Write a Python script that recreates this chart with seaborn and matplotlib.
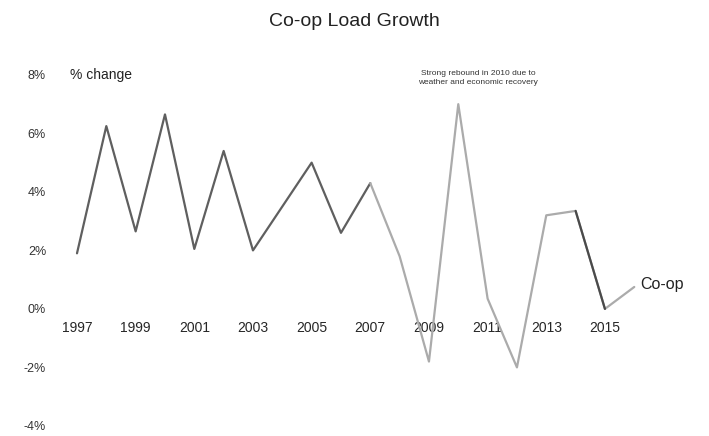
import numpy as np
import pandas as pd
import matplotlib
matplotlib.use("Agg")
import matplotlib.pyplot as plt
import seaborn as sns

years = list(range(1997, 2017))
growth = [1.9, 6.25, 2.65, 6.65, 2.05, 5.4, 2.0, 3.5, 5.0, 2.6,
          4.3, 1.8, -1.8, 7.0, 0.35, -2.0, 3.2, 3.35, 0.0, 0.75]
tick_years = [1997, 1999, 2001, 2003, 2005, 2007, 2009, 2011, 2013, 2015]
y_ticks = [8, 6, 4, 2, 0, -2, -4]

df = pd.DataFrame({"year": years, "growth": growth})
early = df[df["year"] <= 2007]
late = df[df["year"] >= 2007]

sns.set_style("white")
plt.rcParams["font.family"] = ["Liberation Sans", "DejaVu Sans"]

fig = plt.figure(figsize=(7.09, 4.36), dpi=100)
ax = fig.add_axes([0.0846, 0.0138, 0.8886, 0.8486])

sns.lineplot(data=early, x="year", y="growth", ax=ax, color="#5f5f5f", lw=1.6)
sns.lineplot(data=late, x="year", y="growth", ax=ax, color="#ababab", lw=1.6)
sns.lineplot(data=df[(df["year"] >= 2014) & (df["year"] <= 2015)], x="year", y="growth",
             ax=ax, color="#4a4a4a", lw=1.6)

ax.set_xlim(1996.42, 2017.9)
ax.set_ylim(-4.14, 8.51)
ax.set_xticks(tick_years)
ax.set_xticklabels([str(y) for y in tick_years], fontsize=8, color="#333333")
ax.set_yticks(y_ticks)
ax.set_yticklabels([f"{v}%" for v in y_ticks], fontsize=9, color="#333333")
ax.tick_params(axis="y", length=0, pad=10)
ax.tick_params(axis="x", length=0, pad=9)
ax.spines["bottom"].set_position(("data", 0))
for s in ax.spines.values():
    s.set_visible(False)
ax.set_xlabel("")
ax.set_ylabel("")

ax.text(1996.76, 8.0, "% change", fontsize=10, color="#222222", va="center")
ax.text(2016.2, 0.85, "Co-op", fontsize=11.5, color="#222222", va="center")
ax.text(2010.67, 7.9, "Strong rebound in 2010 due to\nweather and economic recovery",
        fontsize=6, color="#333333", ha="center", va="center", linespacing=1.3)

fig.text(0.5, 0.95, "Co-op Load Growth", fontsize=14, color="#222222", ha="center", va="center")

plt.savefig("out.png", dpi=100)
